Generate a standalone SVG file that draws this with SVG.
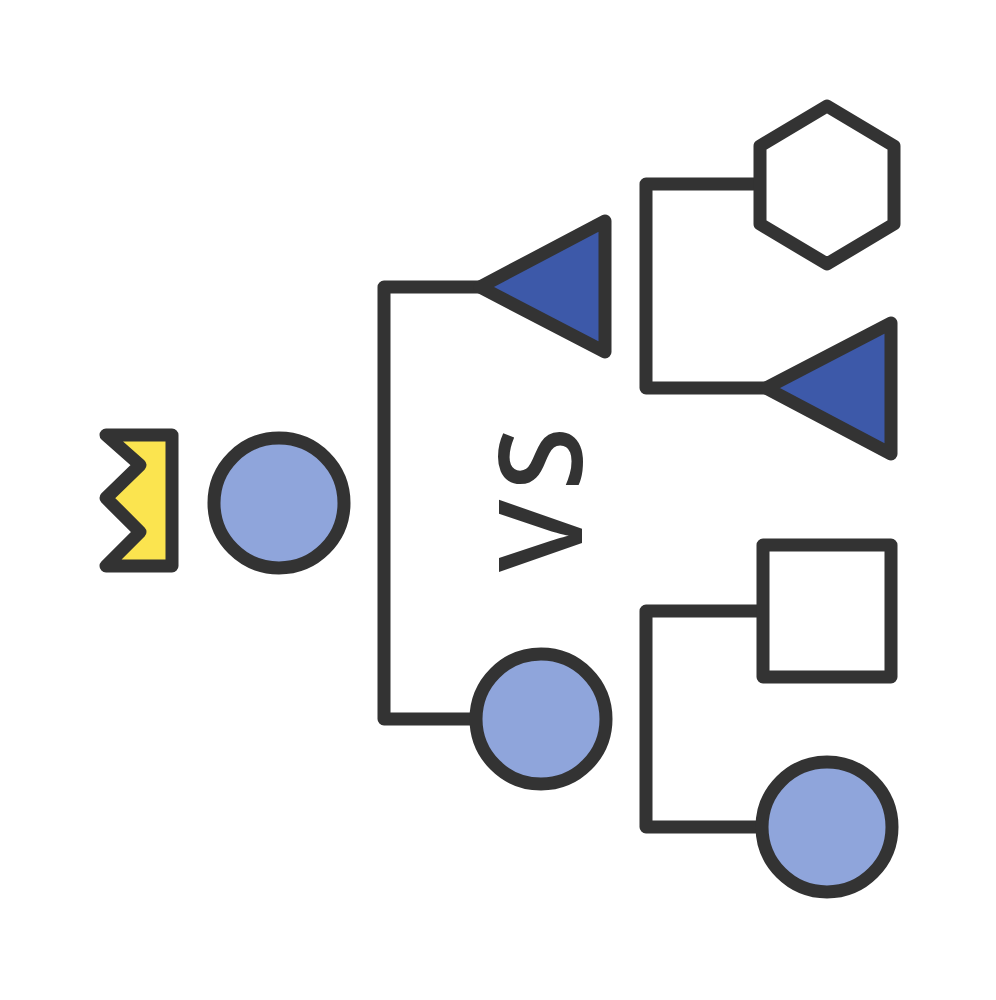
<svg xmlns="http://www.w3.org/2000/svg" width="996" height="1000" viewBox="0 0 996 1000">
<style>
.s{stroke:#333;stroke-width:13;stroke-linejoin:round;stroke-linecap:round}
.l{fill:#8fa5db}.d{fill:#3d59a9}.w{fill:#fff}.y{fill:#fbe44f}
.c{fill:none}
</style>
<rect width="996" height="1000" fill="#fff"/>
<g id="connectors">
<path class="s c" d="M482 287H384V719H476"/>
<path class="s c" d="M760 184H646V388H766"/>
<path class="s c" d="M762 611H646V827H762"/>
</g>
<g id="crown"><path class="s y" d="M172 435H106L140 465L106 498L140 532L106 566H172Z"/></g>
<g id="root"><circle class="s l" cx="279" cy="503" r="65"/></g>
<g id="semi-triangle"><path class="s d" d="M605 221V352L480 287Z"/></g>
<g id="semi-circle"><circle class="s l" cx="541" cy="719" r="65"/></g>
<g id="hexagon"><path class="s w" d="M827 106L894 146V224L827 264L760 224V146Z"/></g>
<g id="leaf-triangle"><path class="s d" d="M891 323V454L766 388Z"/></g>
<g id="square"><rect class="s w" x="763" y="545" width="128" height="132"/></g>
<g id="leaf-circle"><circle class="s l" cx="827" cy="827" r="65"/></g>
<g id="label"><text x="0" y="0" transform="translate(582 572) rotate(-90)" font-family="Open Sans, sans-serif" font-weight="600" font-size="116" letter-spacing="9" fill="#333">VS</text></g>
</svg>
